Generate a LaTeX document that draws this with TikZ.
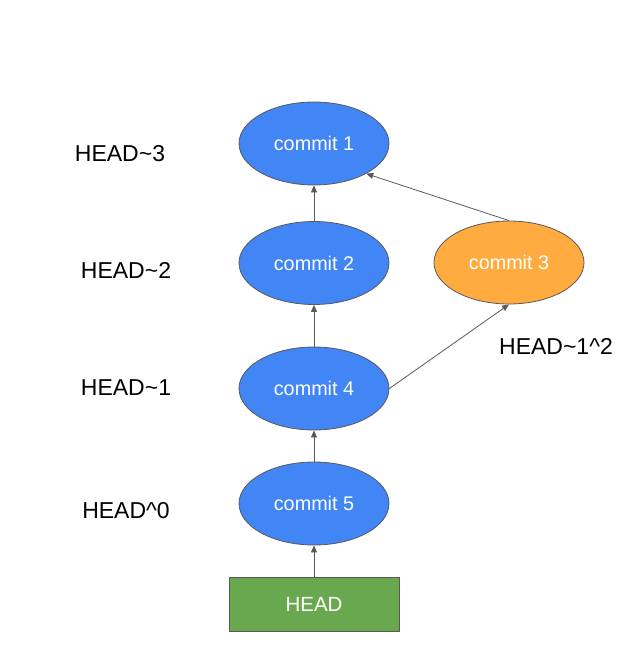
\documentclass[tikz,border=0pt]{standalone}
\usepackage{fontspec}
\setmainfont{Liberation Sans}
\usetikzlibrary{shapes.geometric,arrows.meta}
\definecolor{cblue}{HTML}{4285F4}
\definecolor{corange}{HTML}{FFAB40}
\definecolor{cgreen}{HTML}{6AA84F}
\definecolor{cline}{HTML}{595959}
\tikzset{
  commitnode/.style={ellipse, draw=cline, line width=0.8pt, fill=cblue, minimum width=150pt, minimum height=83pt, inner sep=0pt, text=white, font=\fontsize{19.8}{23}\selectfont},
  headbox/.style={rectangle, draw=cline, line width=0.8pt, fill=cgreen, minimum width=170pt, minimum height=54pt, inner sep=0pt, text=white, font=\fontsize{20.5}{23}\selectfont},
  reflabel/.style={text=black, font=\fontsize{23}{26}\selectfont, inner sep=0pt},
  link/.style={draw=cline, line width=0.8pt, -{Triangle[length=7pt,width=6pt]}}
}
\begin{document}
\begin{tikzpicture}[x=1pt,y=-1pt]
\useasboundingbox (0,0) rectangle (627,663);
\node[commitnode] (c1) at (314,143.5) {commit 1};
\node[commitnode] (c2) at (314,263) {commit 2};
\node[commitnode, fill=corange] (c3) at (509,262.5) {commit 3};
\node[commitnode] (c4) at (314,388.5) {commit 4};
\node[commitnode] (c5) at (314,503.5) {commit 5};
\node[headbox] (head) at (314,604) {HEAD};
\node[reflabel] (l3) at (120,154) {HEAD\textasciitilde 3};
\node[reflabel] (l2) at (126,270) {HEAD\textasciitilde 2};
\node[reflabel] (l1) at (126,388) {HEAD\textasciitilde 1};
\node[reflabel] (l0) at (126,511) {HEAD\textasciicircum 0};
\node[reflabel] (l12) at (556,346) {HEAD\textasciitilde 1\textasciicircum 2};
\draw[link] (head) -- (c5);
\draw[link] (c5) -- (c4);
\draw[link] (c4) -- (c2);
\draw[link] (c2) -- (c1);
\draw[link] (c3.north) -- (c1.-30);
\draw[link] (c4.east) -- (c3.south);
\end{tikzpicture}
\end{document}
